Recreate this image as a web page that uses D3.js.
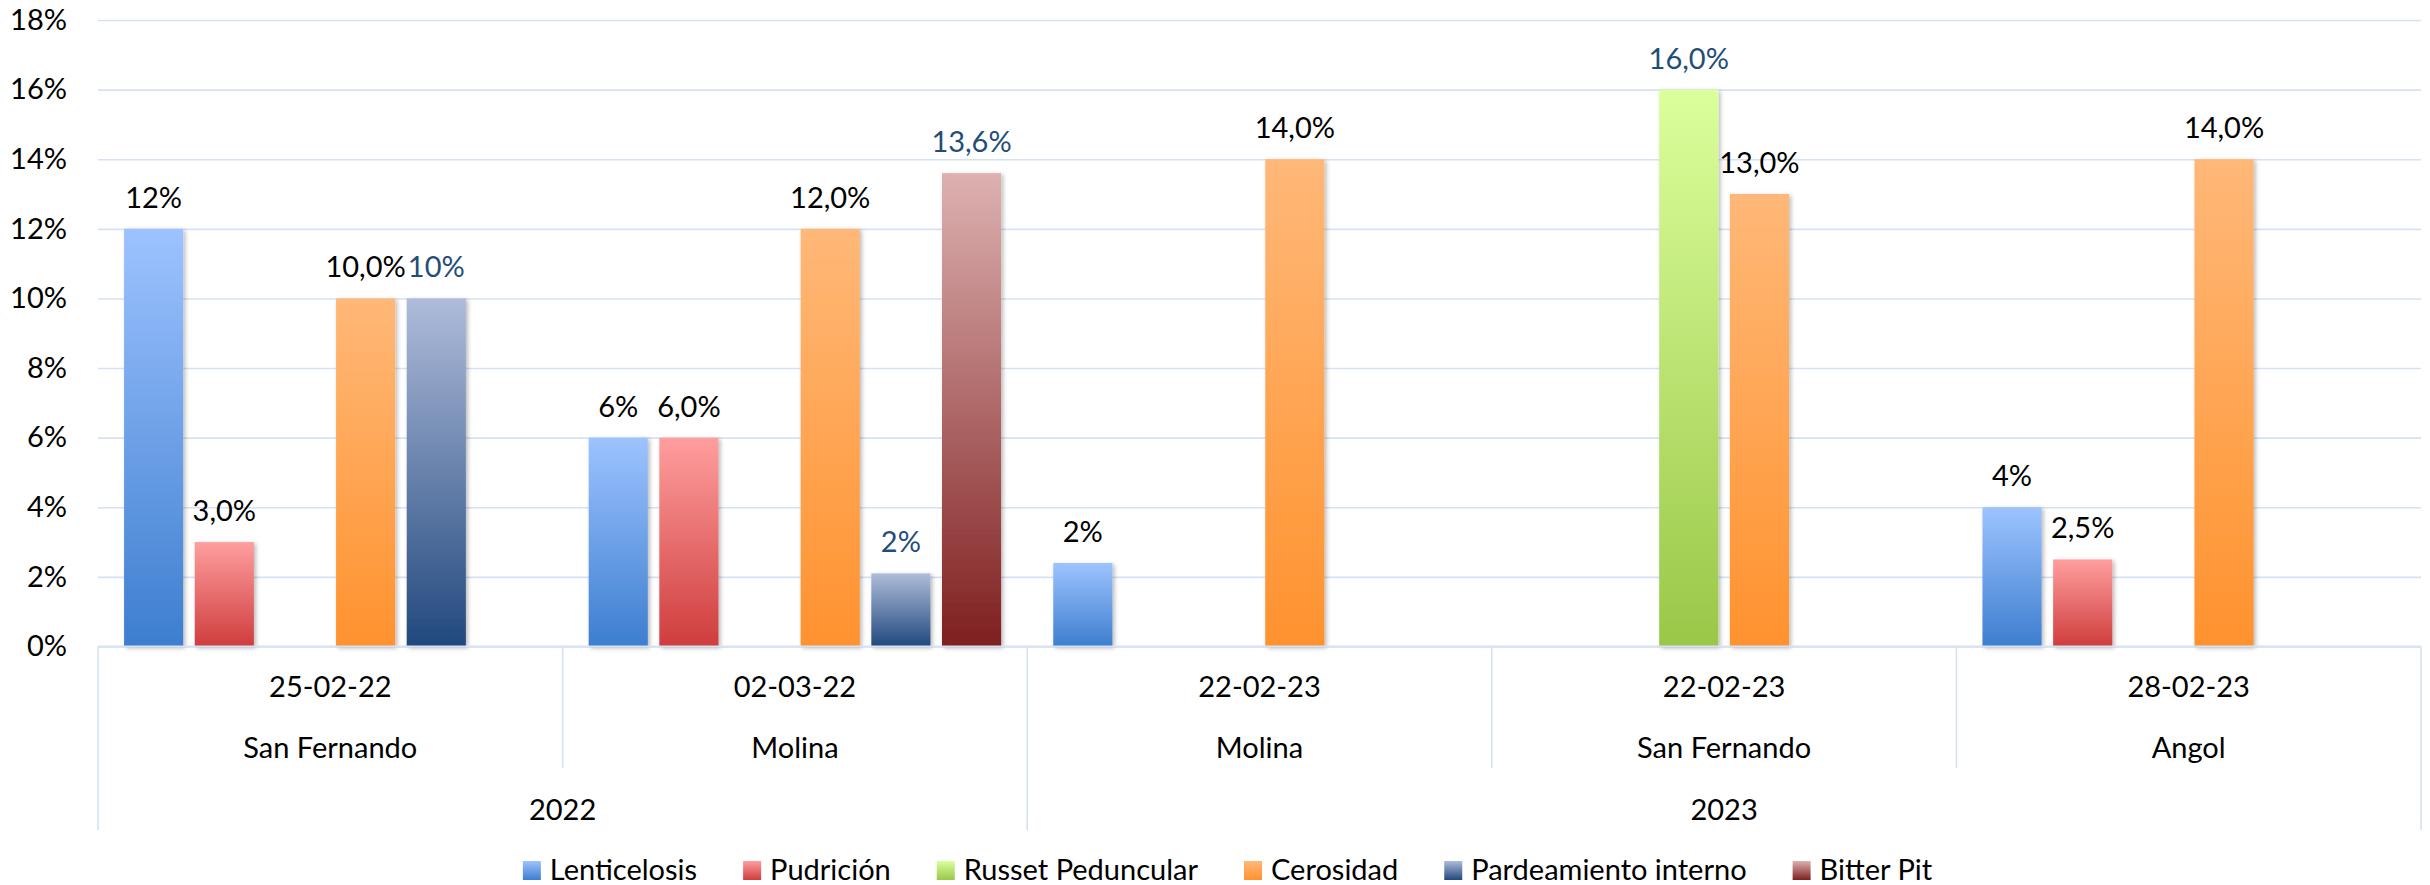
<!DOCTYPE html>
<html>
<head>
<meta charset="utf-8">
<script src="https://cdn.jsdelivr.net/npm/d3@7"></script>
<style>
  html, body { margin: 0; padding: 0; background: #ffffff; }
  svg { display: block; }
  text { font-family: Lato, "Open Sans", sans-serif; }
</style>
</head>
<body>
<svg id="chart" width="2430" height="885"></svg>
<script>
// ---------------- DATA ----------------
const dates = ["25-02-22", "02-03-22", "22-02-23", "22-02-23", "28-02-23"];
const locations = ["San Fernando", "Molina", "Molina", "San Fernando", "Angol"];
const years = ["2022", "2023"];
const yearSpans = [2, 3];
const seriesNames = ["Lenticelosis", "Pudrición", "Russet Peduncular", "Cerosidad", "Pardeamiento interno", "Bitter Pit"];
const lenticelosis = [12, 6, 2.4, null, 4];
const pudricion = [3, 6, null, null, 2.5];
const russetPeduncular = [null, null, null, 16, null];
const cerosidad = [10, 12, 14, 13, 14];
const pardeamientoInterno = [10, 2.1, null, null, null];
const bitterPit = [null, 13.6, null, null, null];
const yTicks = [0, 2, 4, 6, 8, 10, 12, 14, 16, 18];

const seriesValues = [lenticelosis, pudricion, russetPeduncular, cerosidad, pardeamientoInterno, bitterPit];

// ---------------- STYLE ----------------
const gradTop = ["#9DC3FF", "#FF9E9E", "#DBFF9C", "#FFB878", "#AFBCDA", "#DDB1B1"];
const gradBot = ["#3D7ECF", "#CF3D3D", "#9AC748", "#FF922E", "#21487D", "#7F1F1F"];
const labelDecimals = [0, 1, 1, 1, 0, 1];
const labelColors = ["#000000", "#000000", "#1F4E79", "#000000", "#1F4E79", "#1F4E79"];
const gridColor = "#D6E2F3";
const fontSize = 29;

const W = 2430, H = 885;
const plotLeft = 98, plotRight = 2421, plotTop = 20, plotBottom = 646.5;

const svg = d3.select("#chart");
const defs = svg.append("defs");

seriesNames.forEach((s, i) => {
  const g = defs.append("linearGradient").attr("id", "grad" + i)
    .attr("x1", 0).attr("y1", 0).attr("x2", 0).attr("y2", 1);
  g.append("stop").attr("offset", "0%").attr("stop-color", gradTop[i]);
  g.append("stop").attr("offset", "100%").attr("stop-color", gradBot[i]);
});
const filt = defs.append("filter").attr("id", "shadow")
  .attr("x", "-20%").attr("y", "-5%").attr("width", "150%").attr("height", "115%");
filt.append("feDropShadow").attr("dx", 2).attr("dy", 1.5).attr("stdDeviation", 2)
  .attr("flood-color", "#000").attr("flood-opacity", 0.28);

// ---------------- SCALES ----------------
const x0 = d3.scaleBand().domain(d3.range(dates.length)).range([plotLeft, plotRight]).padding(0);
const x1 = d3.scaleBand().domain(seriesNames).range([0, x0.bandwidth()])
  .paddingInner(0.163).paddingOuter(0.369);
const y = d3.scaleLinear().domain([0, 18]).range([plotBottom, plotTop]);

// ---------------- GRID / Y AXIS ----------------
const yAxis = d3.axisLeft(y).tickValues(yTicks).tickSize(-(plotRight - plotLeft))
  .tickPadding(31).tickFormat(d => d + "%");
const gy = svg.append("g").attr("transform", `translate(${plotLeft},0)`).call(yAxis);
gy.select(".domain").remove();
gy.selectAll(".tick line").attr("stroke", gridColor).attr("stroke-width", 1.6);
gy.selectAll(".tick text").attr("fill", "#000").attr("font-size", fontSize)
  .attr("font-family", "Lato, 'Open Sans', sans-serif");

// ---------------- BARS ----------------
const fmt = d3.formatLocale({ decimal: ",", thousands: ".", grouping: [3], currency: ["", ""] });
const barData = [];
seriesNames.forEach((s, si) => {
  seriesValues[si].forEach((v, ci) => {
    if (v !== null && v !== undefined) barData.push({ s, si, ci, v });
  });
});

svg.append("g").selectAll("rect").data(barData).enter().append("rect")
  .attr("x", d => x0(d.ci) + x1(d.s))
  .attr("y", d => y(d.v))
  .attr("width", x1.bandwidth())
  .attr("height", d => y(0) - y(d.v))
  .attr("fill", d => `url(#grad${d.si})`)
  .attr("filter", "url(#shadow)");

svg.append("g").selectAll("text").data(barData).enter().append("text")
  .attr("x", d => x0(d.ci) + x1(d.s) + x1.bandwidth() / 2)
  .attr("y", d => y(d.v) - 21)
  .attr("text-anchor", "middle")
  .attr("font-size", fontSize)
  .attr("fill", d => labelColors[d.si])
  .text(d => fmt.format("." + labelDecimals[d.si] + "f")(d.v) + "%");

// ---------------- CATEGORY AXIS ----------------
const ax = svg.append("g").attr("stroke", gridColor).attr("stroke-width", 1.6);
ax.append("line").attr("x1", plotLeft).attr("x2", plotRight).attr("y1", plotBottom).attr("y2", plotBottom)
  .attr("stroke-width", 2.2);
const level1Bottom = 768, level2Bottom = 830;
const yearEdges = [0];
yearSpans.forEach((n, i) => yearEdges.push(yearEdges[i] + n));
for (let i = 0; i <= dates.length; i++) {
  const xx = i < dates.length ? x0(i) : plotRight;
  const full = yearEdges.includes(i);
  ax.append("line").attr("x1", xx).attr("x2", xx)
    .attr("y1", plotBottom).attr("y2", full ? level2Bottom : level1Bottom);
}

const catG = svg.append("g").attr("font-size", fontSize).attr("text-anchor", "middle").attr("fill", "#000");
dates.forEach((d, i) => {
  catG.append("text").attr("x", x0(i) + x0.bandwidth() / 2).attr("y", 697).text(d);
  catG.append("text").attr("x", x0(i) + x0.bandwidth() / 2).attr("y", 758).text(locations[i]);
});
years.forEach((yr, i) => {
  const a = x0(yearEdges[i]);
  const b = yearEdges[i + 1] < dates.length ? x0(yearEdges[i + 1]) : plotRight;
  catG.append("text").attr("x", (a + b) / 2).attr("y", 820).text(yr);
});

// ---------------- LEGEND ----------------
const leg = svg.append("g");
const items = seriesNames.map((s, i) => {
  const g = leg.append("g");
  g.append("rect").attr("x", 0).attr("y", 861).attr("width", 18).attr("height", 19)
    .attr("fill", `url(#grad${i})`);
  const t = g.append("text").attr("x", 27).attr("y", 880).attr("font-size", fontSize)
    .attr("fill", "#000").text(s);
  return { g, w: 27 + t.node().getComputedTextLength() };
});
const gap = 46;
const total = d3.sum(items, d => d.w) + gap * (items.length - 1);
let cx = 1227.5 - total / 2;
items.forEach(it => { it.g.attr("transform", `translate(${cx},0)`); cx += it.w + gap; });
</script>
</body>
</html>
